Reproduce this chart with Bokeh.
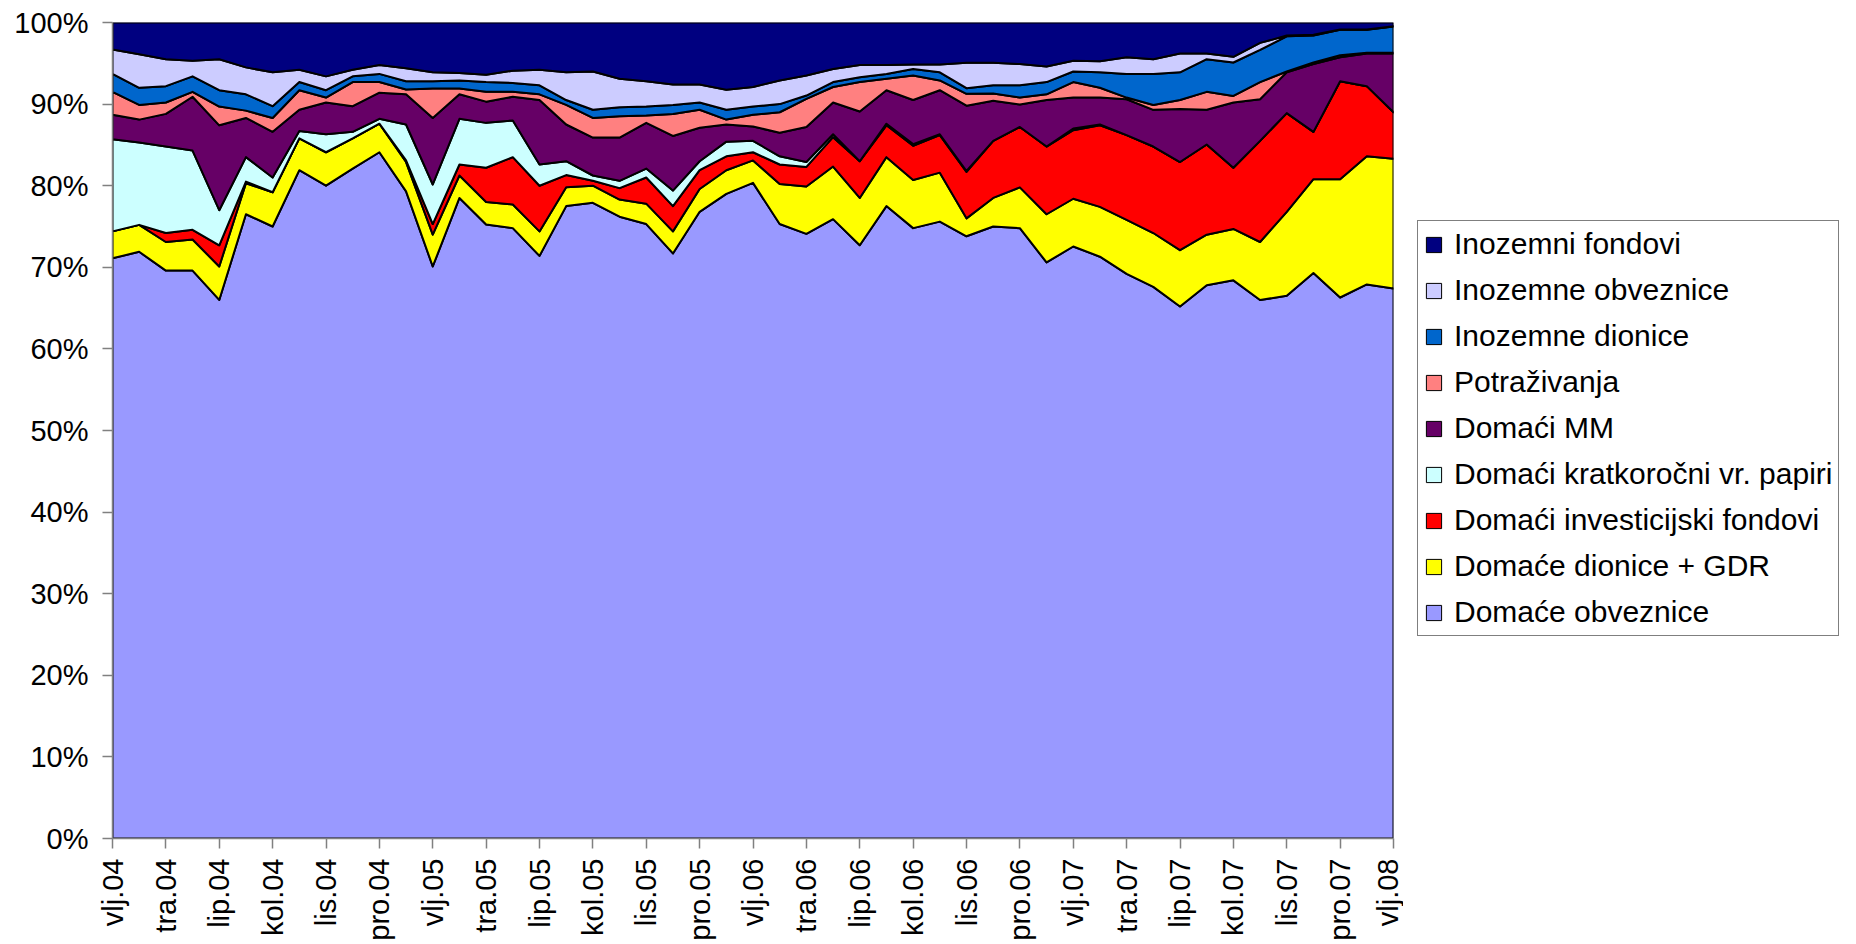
import math
from bokeh.plotting import figure
from bokeh.layouts import row
from bokeh.models import Range1d, FixedTicker, PrintfTickFormatter, Legend, LegendItem
from bokeh.embed import file_html
from bokeh.resources import INLINE

# x tick labels (every second month, Feb 2004 .. Feb 2008)
tick_labels = ["vlj.04", "tra.04", "lip.04", "kol.04", "lis.04", "pro.04",
               "vlj.05", "tra.05", "lip.05", "kol.05", "lis.05", "pro.05",
               "vlj.06", "tra.06", "lip.06", "kol.06", "lis.06", "pro.06",
               "vlj.07", "tra.07", "lip.07", "kol.07", "lis.07", "pro.07",
               "vlj.08"]

# shares in % (bottom to top of the stack)
dom_obv = [71.1, 71.9, 69.6, 69.6, 66.0, 76.5, 75.0, 81.9, 80.0, 82.1, 84.1, 79.3,
           70.1, 78.5, 75.25, 74.8, 71.4, 77.5, 77.9, 76.2, 75.3, 71.7, 76.8, 79.0,
           80.35, 75.3, 74.1, 75.9, 72.7, 77.5, 74.8, 75.6, 73.8, 75.0, 74.8, 70.6,
           72.55, 71.3, 69.2, 67.6, 65.2, 67.8, 68.4, 66.0, 66.5, 69.3, 66.3, 67.9, 67.4]
dom_dion = [3.3, 3.3, 3.5, 3.8, 4.1, 3.8, 4.2, 3.9, 4.1, 3.7, 3.5, 3.6,
            3.9, 2.75, 2.75, 2.9, 3.0, 2.3, 2.1, 2.1, 2.5, 2.7, 2.8, 2.9,
            2.75, 4.9, 5.8, 6.45, 5.8, 6.0, 5.9, 6.0, 2.2, 3.5, 5.0, 5.9,
            5.85, 6.1, 6.6, 6.6, 6.9, 6.2, 6.3, 7.1, 10.3, 11.5, 14.5, 15.7, 15.9]
dom_inv = [0.0, 0.0, 1.1, 1.2, 2.6, 0.2, 0.0, 0.0, 0.0, 0.0, 0.0, 0.2,
           1.3, 1.35, 4.2, 5.8, 5.6, 1.5, 0.6, 1.4, 3.2, 3.1, 2.3, 1.7,
           1.0, 2.4, 2.4, 3.6, 4.5, 3.9, 4.2, 4.6, 5.7, 7.0, 7.4, 8.3,
           8.4, 10.0, 10.4, 10.6, 10.8, 11.05, 7.5, 12.4, 12.1, 5.8, 12.0, 8.6, 5.7]
dom_krat = [11.3, 10.1, 10.6, 9.7, 4.3, 3.0, 1.8, 0.9, 2.2, 0.8, 0.6, 4.4,
            4.85, 5.6, 5.5, 4.5, 2.6, 1.7, 0.65, 0.9, 1.1, 1.9, 1.1, 1.8,
            1.4, 1.0, 0.6, 0.35, 0.0, 0.2, 0.2, 0.1, 0.1, 0.0, 0.0, 0.0,
            0.2, 0.1, 0.0, 0.0, 0.0, 0.0, 0.0, 0.0, 0.0, 0.0, 0.0, 0.0, 0.0]
dom_mm = [3.0, 2.8, 4.0, 6.6, 10.4, 4.8, 5.6, 2.6, 3.9, 3.15, 3.2, 3.7,
          8.15, 3.0, 2.6, 2.9, 7.9, 4.5, 4.65, 5.3, 5.6, 6.7, 4.1, 2.1,
          1.75, 2.9, 4.3, 3.9, 6.1, 4.1, 5.4, 5.4, 8.0, 4.9, 2.75, 5.7,
          3.8, 3.3, 4.4, 4.5, 6.5, 4.25, 8.0, 5.1, 5.0, 8.3, 2.95, 4.0, 7.2]
potr = [2.8, 1.8, 1.4, 0.6, 2.3, 0.9, 1.7, 2.4, 0.6, 2.95, 1.3, 0.6,
        3.6, 0.7, 1.2, 0.6, 0.7, 2.4, 2.4, 2.6, 0.9, 2.7, 2.2, 0.6,
        1.45, 2.5, 3.45, 1.9, 3.6, 1.4, 3.0, 1.2, 1.46, 0.9, 0.85, 0.7,
        1.9, 1.2, 0.2, 0.6, 1.1, 2.2, 0.8, 2.1, 0.1, 0.2, 0.25, 0.1, 0.1]
ino_dion = [2.2, 2.1, 2.0, 1.9, 2.0, 2.0, 1.45, 1.0, 0.9, 0.7, 1.0, 1.0,
            0.9, 1.0, 1.2, 1.1, 1.1, 0.6, 1.0, 1.1, 1.1, 1.1, 0.9, 1.2,
            1.0, 1.0, 0.4, 0.6, 0.6, 0.6, 0.8, 1.0, 0.69, 1.0, 1.5, 1.5,
            1.3, 1.9, 2.9, 3.8, 3.4, 4.0, 4.1, 3.95, 4.3, 3.3, 3.1, 2.8, 3.2]
ino_obv = [3.0, 4.1, 3.3, 1.9, 3.8, 3.3, 4.15, 1.5, 1.7, 0.8, 1.1, 1.6,
           1.1, 0.9, 0.9, 1.5, 1.9, 3.4, 4.7, 3.5, 3.1, 2.5, 2.2, 2.45,
           2.4, 2.9, 2.45, 1.6, 1.5, 1.1, 0.55, 0.95, 3.11, 2.76, 2.6, 1.9,
           1.3, 1.35, 2.05, 1.8, 2.3, 0.7, 0.7, 0.85, 0.1, 0.1, 0.05, 0.05, 0.05]
ino_fond = [3.3, 3.9, 4.5, 4.7, 4.5, 5.5, 6.1, 5.8, 6.6, 5.8, 5.2, 5.6,
            6.1, 6.2, 6.4, 5.9, 5.8, 6.1, 6.0, 6.9, 7.2, 7.6, 7.6, 8.25,
            7.9, 7.1, 6.5, 5.7, 5.2, 5.2, 5.15, 5.15, 4.94, 4.94, 5.1, 5.4,
            4.7, 4.75, 4.25, 4.5, 3.8, 3.8, 4.2, 2.5, 1.6, 1.5, 0.85, 0.85, 0.45]

names = ["Domaće obveznice", "Domaće dionice + GDR", "Domaći investicijski fondovi",
         "Domaći kratkoročni vr. papiri", "Domaći MM", "Potraživanja",
         "Inozemne dionice", "Inozemne obveznice", "Inozemni fondovi"]
colors = ["#9999FF", "#FFFF00", "#FF0000", "#CCFFFF", "#660066", "#FF8080",
          "#0066CC", "#CCCCFF", "#000080"]
series = [dom_obv, dom_dion, dom_inv, dom_krat, dom_mm, potr, ino_dion, ino_obv, ino_fond]

n = len(dom_obv)
x = list(range(n))
totals = [sum(s[i] for s in series) for i in range(n)]

FONT = "Liberation Sans"
H = 944

p = figure(width=1403, height=H, output_backend="svg", toolbar_location=None,
           x_range=Range1d(0, n - 1), y_range=Range1d(0, 100),
           min_border_left=112, min_border_right=10, min_border_top=22,
           min_border_bottom=H - 22 - 816)
p.background_fill_color = "white"
p.border_fill_color = "white"
p.outline_line_color = None
p.grid.visible = False

bottom = [0.0] * n
for name, col, s in zip(names, colors, series):
    top = [bottom[i] + s[i] * 100.0 / totals[i] for i in range(n)]
    xs = x + x[::-1]
    ys = top + bottom[::-1]
    p.patch(xs, ys, fill_color=col, line_color="black", line_width=2, line_join="round")
    bottom = top

p.xaxis.ticker = FixedTicker(ticks=list(range(0, n, 2)))
p.xaxis.major_label_overrides = {i * 2: lab for i, lab in enumerate(tick_labels)}
p.xaxis.major_label_orientation = math.pi / 2
p.yaxis.ticker = FixedTicker(ticks=list(range(0, 101, 10)))
p.yaxis.formatter = PrintfTickFormatter(format="%d%%")

for ax in (p.xaxis, p.yaxis):
    ax.axis_line_color = "#808080"
    ax.axis_line_width = 1.5
    ax.major_tick_line_color = "#808080"
    ax.major_tick_line_width = 1.5
    ax.major_tick_in = 0
    ax.major_tick_out = 10
    ax.minor_tick_line_color = None
    ax.major_label_text_font = FONT
    ax.major_label_text_font_size = "29px"
    ax.major_label_text_color = "black"
p.yaxis.major_label_standoff = 14
p.xaxis.major_label_standoff = 10

# legend panel (frame aligned with the chart frame: top 22, bottom 838)
q = figure(width=445, height=H, output_backend="svg", toolbar_location=None,
           x_range=Range1d(0, 1), y_range=Range1d(0, 1),
           min_border_left=0, min_border_right=0, min_border_top=0, min_border_bottom=0)
q.axis.visible = False
q.grid.visible = False
q.outline_line_color = None
q.background_fill_color = "white"
q.border_fill_color = "white"

items = []
for name, col in zip(names, colors):
    r = q.rect(x=[5], y=[5], width=1, height=1, fill_color=col, line_color="black", line_width=1)
    items.append(LegendItem(label=name, renderers=[r]))

legend = Legend(items=items[::-1], location=(14, 202))
legend.label_text_font = FONT
legend.label_text_font_size = "30px"
legend.label_text_color = "black"
legend.glyph_width = 19
legend.glyph_height = 19
legend.label_height = 34
legend.label_standoff = 11
legend.spacing = 12
legend.padding = 6
legend.margin = 0
legend.border_line_color = "black"
legend.border_line_width = 1
legend.background_fill_color = "white"
legend.background_fill_alpha = 1.0
q.add_layout(legend, "center")

layout = row(p, q, spacing=0)
open("out.html", "w").write(file_html(layout, INLINE))
